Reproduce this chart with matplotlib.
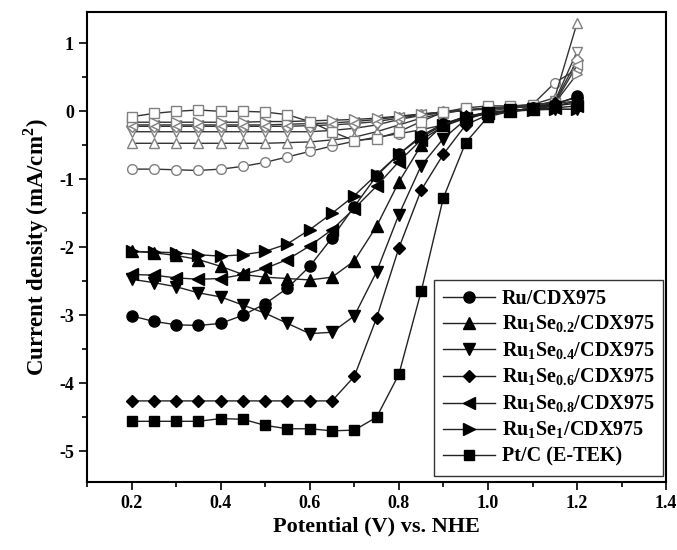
"""
ORR polarization curves, Ru-Se/CDX975 vs Pt/C
"""
import matplotlib
matplotlib.use('Agg')
import matplotlib.pyplot as plt
from matplotlib.ticker import MultipleLocator

plt.rcParams['font.family'] = ['Liberation Serif', 'DejaVu Serif']
plt.rcParams['font.weight'] = 'bold'
plt.rcParams['mathtext.fontset'] = 'custom'
plt.rcParams['mathtext.rm'] = 'Liberation Serif:bold'
plt.rcParams['mathtext.bf'] = 'Liberation Serif:bold'
plt.rcParams['axes.unicode_minus'] = False

potential = [0.2, 0.25, 0.3, 0.35, 0.4, 0.45, 0.5, 0.55, 0.6, 0.65, 0.7,
             0.75, 0.8, 0.85, 0.9, 0.95, 1.0, 1.05, 1.1, 1.15, 1.2]

# closed symbols (O2 saturated)
ru = [-3.01, -3.09, -3.14, -3.15, -3.12, -3.0, -2.83, -2.6, -2.28, -1.86, -1.40,
      -0.95, -0.63, -0.36, -0.18, -0.08, -0.03, 0.0, 0.05, 0.10, 0.22]
se02 = [-2.06, -2.08, -2.12, -2.18, -2.28, -2.40, -2.44, -2.46, -2.48, -2.44, -2.20,
        -1.69, -1.04, -0.50, -0.20, -0.07, -0.02, 0.0, 0.03, 0.08, 0.15]
se04 = [-2.47, -2.52, -2.58, -2.67, -2.73, -2.85, -2.97, -3.12, -3.27, -3.25, -3.01,
        -2.36, -1.52, -0.80, -0.40, -0.12, -0.02, 0.02, 0.03, 0.03, 0.03]
se06 = [-4.26, -4.26, -4.26, -4.26, -4.26, -4.26, -4.26, -4.26, -4.26, -4.26, -3.90,
        -3.04, -2.01, -1.16, -0.63, -0.20, -0.05, 0.0, 0.05, 0.12, 0.20]
se08 = [-2.40, -2.41, -2.45, -2.47, -2.46, -2.40, -2.31, -2.18, -1.98, -1.74, -1.43,
        -1.10, -0.74, -0.42, -0.22, -0.10, -0.03, 0.0, 0.03, 0.05, 0.08]
se1 = [-2.06, -2.07, -2.08, -2.11, -2.13, -2.11, -2.06, -1.95, -1.74, -1.50, -1.24,
       -0.93, -0.63, -0.38, -0.20, -0.08, -0.02, 0.0, 0.02, 0.03, 0.03]
ptc = [-4.56, -4.56, -4.56, -4.56, -4.52, -4.53, -4.62, -4.67, -4.67, -4.70, -4.69,
       -4.50, -3.87, -2.65, -1.27, -0.46, -0.08, 0.0, 0.05, 0.08, 0.12]

# open symbols (N2 background)
ru_n2 = [-0.85, -0.85, -0.86, -0.87, -0.85, -0.81, -0.75, -0.67, -0.59, -0.51, -0.44,
         -0.38, -0.33, -0.27, -0.20, -0.10, 0.0, 0.05, 0.10, 0.42, 0.62]
se02_n2 = [-0.47, -0.47, -0.47, -0.47, -0.47, -0.47, -0.47, -0.46, -0.45, -0.42, -0.38,
           -0.30, -0.20, -0.10, -0.03, 0.02, 0.05, 0.07, 0.10, 0.20, 1.30]
se04_n2 = [-0.30, -0.30, -0.30, -0.30, -0.30, -0.30, -0.30, -0.30, -0.30, -0.28, -0.25,
           -0.20, -0.12, -0.06, -0.02, 0.02, 0.04, 0.06, 0.08, 0.15, 0.88]
se06_n2 = [-0.22, -0.22, -0.22, -0.22, -0.22, -0.22, -0.22, -0.22, -0.21, -0.20, -0.18,
           -0.15, -0.10, -0.05, -0.01, 0.02, 0.04, 0.06, 0.08, 0.14, 0.75]
se08_n2 = [-0.20, -0.20, -0.20, -0.20, -0.20, -0.20, -0.20, -0.19, -0.18, -0.17, -0.15,
           -0.12, -0.08, -0.04, -0.01, 0.02, 0.04, 0.05, 0.07, 0.12, 0.68]
se1_n2 = [-0.16, -0.16, -0.16, -0.16, -0.16, -0.16, -0.15, -0.15, -0.14, -0.13, -0.12,
          -0.10, -0.07, -0.04, -0.01, 0.02, 0.03, 0.05, 0.07, 0.12, 0.55]
ptc_n2 = [-0.08, -0.03, 0.0, 0.02, 0.0, 0.0, -0.01, -0.05, -0.15, -0.30, -0.43,
          -0.40, -0.30, -0.15, -0.01, 0.05, 0.08, 0.08, 0.10, 0.12, 0.15]

labels = ['Ru/CDX975',
          r'Ru$_{1}$Se$_{0.2}$/CDX975',
          r'Ru$_{1}$Se$_{0.4}$/CDX975',
          r'Ru$_{1}$Se$_{0.6}$/CDX975',
          r'Ru$_{1}$Se$_{0.8}$/CDX975',
          r'Ru$_{1}$Se$_{1}$/CDX975',
          'Pt/C (E-TEK)']
markers = ['o', '^', 'v', 'D', '<', '>', 's']
o2_data = [ru, se02, se04, se06, se08, se1, ptc]
n2_data = [ru_n2, se02_n2, se04_n2, se06_n2, se08_n2, se1_n2, ptc_n2]

fig = plt.figure(figsize=(6.77, 5.5), dpi=100)
ax = fig.add_axes([0.1285, 0.124, 0.8555, 0.854])

for y, m in zip(n2_data, markers):
    ms = 6 if m == 'D' else 7
    ax.plot(potential, y, color='#333333', lw=1.0, marker=m, ms=ms,
            mfc='white', mec='#808080', mew=1.0)

for y, m, lab in zip(o2_data, markers, labels):
    ms = 6.5 if m in ('D', 's') else 8
    ax.plot(potential, y, color='#222222', lw=1.0, marker=m, ms=ms,
            mfc='black', mec='black', label=lab)

ax.set_xlim(0.1, 1.4)
ax.set_ylim(-5.45, 1.46)
ax.xaxis.set_major_locator(MultipleLocator(0.2))
ax.xaxis.set_minor_locator(MultipleLocator(0.1))
ax.yaxis.set_major_locator(MultipleLocator(1))
ax.yaxis.set_minor_locator(MultipleLocator(0.5))
ax.tick_params(which='both', direction='out', width=1.2, labelsize=13)
ax.tick_params(which='major', length=6)
ax.tick_params(which='minor', length=3.5)
for s in ax.spines.values():
    s.set_linewidth(1.5)
ax.set_xlabel('Potential (V) vs. NHE', fontsize=16, fontweight='bold', labelpad=3)
ax.set_ylabel('Current density (mA/cm$^2$)', fontsize=16.5, fontweight='bold', labelpad=6)

leg = ax.legend(loc='lower right', bbox_to_anchor=(0.995, 0.013), borderaxespad=0,
                fontsize=14.5, frameon=True, fancybox=False, edgecolor='black',
                handlelength=2.6, labelspacing=0.26, borderpad=0.45, handletextpad=0.3)
leg.get_frame().set_linewidth(1.0)

plt.savefig('out.png', dpi=100)
